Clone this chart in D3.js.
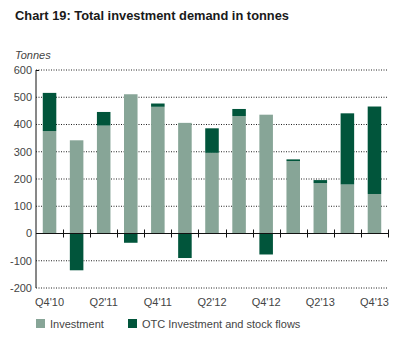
<!DOCTYPE html>
<html>
<head>
<meta charset="utf-8">
<script src="https://cdn.jsdelivr.net/npm/d3@7"></script>
<style>
  body { margin: 0; background: #fff; }
  svg { display: block; font-family: "Liberation Sans", Arial, sans-serif; }
</style>
</head>
<body>
<div id="chart"></div>
<script>
// Quarters, Q4'10 .. Q4'13
const quarters = ["Q4'10", "Q1'11", "Q2'11", "Q3'11", "Q4'11", "Q1'12", "Q2'12", "Q3'12", "Q4'12", "Q1'13", "Q2'13", "Q3'13", "Q4'13"];
const investment = [376, 342, 396, 511, 465, 406, 296, 431, 436, 266, 185, 180, 145];
const otcFlows = [140, -135, 50, -34, 12, -90, 90, 26, -77, 6, 11, 261, 321];
const yTicks = [-200, -100, 0, 100, 200, 300, 400, 500, 600];
const xLabels = ["Q4'10", "Q2'11", "Q4'11", "Q2'12", "Q4'12", "Q2'13", "Q4'13"];
const seriesNames = ["Investment", "OTC Investment and stock flows"];

const colors = { investment: '#87a597', otc: '#01553b' };

const width = 416, height = 351;
const margin = { top: 70, right: 28, bottom: 63, left: 36 };
const innerW = width - margin.left - margin.right;
const innerH = height - margin.top - margin.bottom;

const svg = d3.select('#chart').append('svg')
    .attr('width', width)
    .attr('height', height);

// Title and unit label
svg.append('text')
    .attr('x', 15).attr('y', 20)
    .attr('font-size', 13.5)
    .attr('font-weight', 'bold')
    .attr('fill', '#1a1a1a')
    .attr('textLength', 274)
    .attr('lengthAdjust', 'spacingAndGlyphs')
    .text('Chart 19: Total investment demand in tonnes');

svg.append('text')
    .attr('x', 15).attr('y', 59)
    .attr('font-size', 11)
    .attr('font-style', 'italic')
    .attr('fill', '#444')
    .text('Tonnes');

const g = svg.append('g').attr('transform', `translate(${margin.left},${margin.top})`);

const x = d3.scaleBand()
    .domain(quarters)
    .range([0, innerW])
    .paddingInner(0.5)
    .paddingOuter(0.25);

const y = d3.scaleLinear()
    .domain([-200, 600])
    .range([innerH, 0]);

// Dotted grid lines
g.append('g')
    .selectAll('line')
    .data(yTicks.filter(d => d !== 0))
    .join('line')
    .attr('x1', 0).attr('x2', innerW)
    .attr('y1', d => y(d)).attr('y2', d => y(d))
    .attr('stroke', '#222')
    .attr('stroke-width', 1)
    .attr('stroke-dasharray', '1,1.5');

// Y axis labels
g.append('g')
    .selectAll('text')
    .data(yTicks)
    .join('text')
    .attr('x', -4)
    .attr('y', d => y(d))
    .attr('dy', '0.35em')
    .attr('text-anchor', 'end')
    .attr('font-size', 11)
    .attr('fill', '#444')
    .text(d => d);

// Investment bars (from zero)
g.append('g')
    .selectAll('rect')
    .data(quarters)
    .join('rect')
    .attr('x', d => x(d))
    .attr('width', x.bandwidth())
    .attr('y', (d, i) => y(investment[i]))
    .attr('height', (d, i) => y(0) - y(investment[i]))
    .attr('fill', colors.investment);

// OTC bars: stacked on top when positive, below zero when negative
g.append('g')
    .selectAll('rect')
    .data(quarters)
    .join('rect')
    .attr('x', d => x(d))
    .attr('width', x.bandwidth())
    .attr('y', (d, i) => otcFlows[i] >= 0 ? y(investment[i] + otcFlows[i]) : y(0))
    .attr('height', (d, i) => Math.abs(y(0) - y(otcFlows[i])))
    .attr('fill', colors.otc);

// Left axis line
g.append('line')
    .attr('x1', 0).attr('x2', 0)
    .attr('y1', y(600)).attr('y2', y(-200))
    .attr('stroke', '#111').attr('stroke-width', 1);
g.append('line')
    .attr('x1', 0).attr('x2', 3)
    .attr('y1', y(600) + 0.5).attr('y2', y(600) + 0.5)
    .attr('stroke', '#111');

// Zero line with crossing ticks between quarters
g.append('line')
    .attr('x1', 0).attr('x2', innerW)
    .attr('y1', y(0)).attr('y2', y(0))
    .attr('stroke', '#111').attr('stroke-width', 1.2);

const step = x.step();
g.append('g')
    .selectAll('line')
    .data(quarters.slice(1).concat(['end']))
    .join('line')
    .attr('x1', (d, i) => Math.round(x(quarters[0]) - step * 0.25 + step * (i + 1)) + 0.5)
    .attr('x2', (d, i) => Math.round(x(quarters[0]) - step * 0.25 + step * (i + 1)) + 0.5)
    .attr('y1', y(0) - 4).attr('y2', y(0) + 4)
    .attr('stroke', '#111');

// X axis labels (every second quarter)
g.append('g')
    .selectAll('text')
    .data(xLabels)
    .join('text')
    .attr('x', d => x(d) + x.bandwidth() / 2)
    .attr('y', innerH + 18)
    .attr('text-anchor', 'middle')
    .attr('font-size', 11)
    .attr('fill', '#444')
    .text(d => d);

// Legend
const legend = svg.append('g').attr('transform', 'translate(36,319)');
const legendX = [0, 92];
const legendColors = [colors.investment, colors.otc];
seriesNames.forEach((name, i) => {
    legend.append('rect')
        .attr('x', legendX[i]).attr('y', 0)
        .attr('width', 9).attr('height', 9)
        .attr('fill', legendColors[i]);
    legend.append('text')
        .attr('x', legendX[i] + 14).attr('y', 8.5)
        .attr('font-size', 11)
        .attr('fill', '#444')
        .text(name);
});
</script>
</body>
</html>
